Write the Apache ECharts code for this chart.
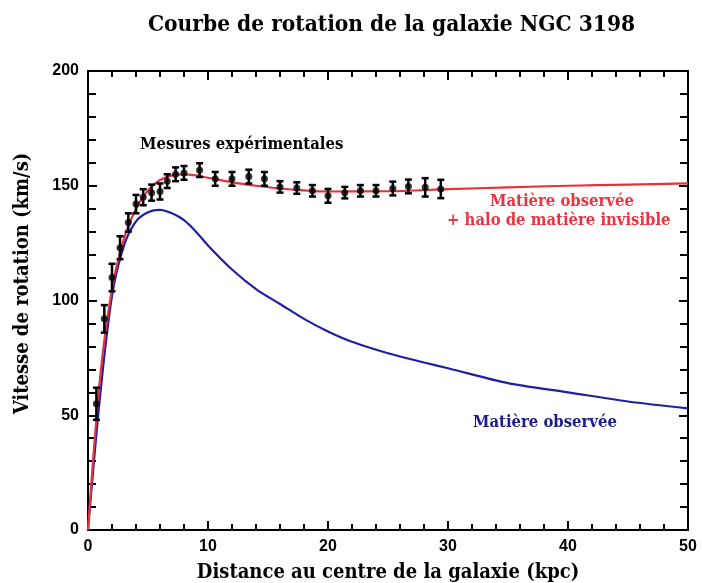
<!DOCTYPE html>
<html>
<head>
<meta charset="utf-8">
<script src="https://cdn.jsdelivr.net/npm/echarts@6/dist/echarts.min.js"></script>
<style>
  html, body { margin: 0; padding: 0; background: #fff; }
  #main { width: 702px; height: 583px; }
</style>
</head>
<body>
<div id="main"></div>
<script>
// mesures (kpc, km/s, barre d'erreur)
var mesX = [0.7, 1.36, 2.0, 2.67, 3.36, 4.0, 4.6, 5.3, 6.0, 6.6, 7.3, 8.0, 9.3, 10.6, 12.0, 13.4, 14.7,
            16.0, 17.4, 18.7, 20.0, 21.4, 22.7, 24.0, 25.4, 26.7, 28.1, 29.4];
var mesV = [55, 92, 110, 123, 134, 142, 145, 147, 147.5, 152, 155, 155.6, 156.8, 153, 153, 154, 153,
            149.5, 149, 147.8, 145.6, 147, 147.8, 147.8, 148.8, 149.7, 149.3, 148.6];
var mesErr = [7, 6, 6, 5, 4, 4, 3.5, 3.5, 3.5, 3, 3, 3, 3, 3, 3, 3, 3,
              2.5, 2.5, 2.5, 3, 2.5, 2.5, 2.5, 3, 3, 4, 4];

// matière observée + halo (courbe rouge)
var haloX = [0, 1, 2, 3, 4, 5, 6, 7, 8, 9, 10, 12, 14, 16, 18, 20, 25, 30, 35, 40, 45, 50];
var haloV = [0, 66, 105, 127, 140, 148, 152.5, 154.5, 155, 154.5, 153.5, 151.5, 150, 148.8,
             148, 147.5, 147.6, 148.5, 149.3, 150, 150.5, 151];

// matière observée seule (courbe bleue)
var obsX = [0, 1, 2, 3, 4, 5, 6, 7, 8, 9, 10, 12, 14, 16, 18, 20, 22, 25, 28, 30, 35, 40, 45, 50];
var obsV = [0, 58, 102, 124, 134.5, 138.5, 139.5, 138, 135, 130, 124, 113.5, 105, 98.5, 92,
            86.5, 82, 77, 73, 70.5, 64, 60, 56, 53];

var xTicks = [0, 10, 20, 30, 40, 50];
var yTicks = [0, 50, 100, 150, 200];

function pairs(xs, ys) {
  return xs.map(function (x, i) { return [x, ys[i]]; });
}

var chart = echarts.init(document.getElementById('main'));
var titleFont = '"DejaVu Serif Condensed", "DejaVu Serif", serif';
var labelFont = '"Liberation Sans", Arial, sans-serif';

function frameAxis(extra) {
  return Object.assign({
    type: 'value',
    axisLine: { show: true, onZero: false, lineStyle: { color: '#000', width: 2 } },
    axisTick: { show: true, inside: true, length: 9, lineStyle: { color: '#000', width: 2 } },
    minorTick: { show: true, splitNumber: 5, length: 6, lineStyle: { color: '#000', width: 2 } },
    axisLabel: { show: false },
    splitLine: { show: false }
  }, extra);
}

var option = {
  animation: false,
  backgroundColor: '#fff',
  title: {
    text: 'Courbe de rotation de la galaxie NGC 3198',
    left: 143,
    top: 9,
    textStyle: { fontFamily: titleFont, fontWeight: 'bold', fontSize: 22.5, color: '#000' }
  },
  grid: { left: 88, right: 14, top: 71, bottom: 53, outerBoundsMode: 'none', containLabel: false },
  xAxis: [
    frameAxis({
      min: 0, max: 50, interval: 10, position: 'bottom',
      name: 'Distance au centre de la galaxie (kpc)',
      nameLocation: 'middle', nameGap: 33,
      nameTextStyle: { fontFamily: titleFont, fontWeight: 'bold', fontSize: 20, color: '#000' },
      axisLabel: {
        show: true, margin: 9, fontFamily: labelFont, fontWeight: 'bold', fontSize: 16, color: '#000',
        formatter: function (v) { return xTicks.indexOf(v) >= 0 ? String(v) : ''; }
      }
    }),
    frameAxis({ min: 0, max: 50, interval: 10, position: 'top' })
  ],
  yAxis: [
    frameAxis({
      min: 0, max: 200, interval: 50, position: 'left',
      name: 'Vitesse de rotation (km/s)',
      nameLocation: 'middle', nameGap: 55,
      nameTextStyle: { fontFamily: titleFont, fontWeight: 'bold', fontSize: 20, color: '#000', padding: [0, 0, 0, 34] },
      minorTick: { show: true, splitNumber: 5, length: 8, lineStyle: { color: '#000', width: 2 } },
      axisLabel: {
        show: true, margin: 9, fontFamily: labelFont, fontWeight: 'bold', fontSize: 16, color: '#000',
        formatter: function (v) { return yTicks.indexOf(v) >= 0 ? String(v) : ''; }
      }
    }),
    frameAxis({
      min: 0, max: 200, interval: 50, position: 'right',
      minorTick: { show: true, splitNumber: 5, length: 8, lineStyle: { color: '#000', width: 2 } }
    })
  ],
  series: [{
    name: 'Matière observée',
    type: 'line',
    data: pairs(obsX, obsV),
    smooth: 0.3,
    symbol: 'none',
    lineStyle: { color: '#1f1fa6', width: 2.2 },
    z: 2
  }, {
    name: 'Matière observée + halo',
    type: 'line',
    data: pairs(haloX, haloV),
    smooth: 0.3,
    symbol: 'none',
    lineStyle: { color: '#e8303a', width: 2.2 },
    z: 3
  }, {
    name: 'Barres',
    type: 'custom',
    data: mesX.map(function (x, i) { return [x, mesV[i] - mesErr[i], mesV[i] + mesErr[i]]; }),
    renderItem: function (params, api) {
      var lo = api.coord([api.value(0), api.value(1)]);
      var hi = api.coord([api.value(0), api.value(2)]);
      var w = 3.5;
      var st = { stroke: '#000', lineWidth: 2.5 };
      return {
        type: 'group',
        children: [
          { type: 'line', shape: { x1: lo[0], y1: lo[1], x2: hi[0], y2: hi[1] }, style: st },
          { type: 'line', shape: { x1: lo[0] - w, y1: lo[1], x2: lo[0] + w, y2: lo[1] }, style: st },
          { type: 'line', shape: { x1: hi[0] - w, y1: hi[1], x2: hi[0] + w, y2: hi[1] }, style: st }
        ]
      };
    },
    encode: { x: 0, y: [1, 2] },
    z: 4
  }, {
    name: 'Mesures',
    type: 'scatter',
    data: pairs(mesX, mesV),
    symbol: 'circle',
    symbolSize: 7,
    itemStyle: { color: '#000' },
    z: 5
  }],
  graphic: [{
    type: 'text', left: 140, top: 136,
    style: { text: 'Mesures expérimentales', fontFamily: titleFont, fontWeight: 'bold', fontSize: 16.5, fill: '#000' }
  }, {
    type: 'text', left: 490, top: 193,
    style: { text: 'Matière observée', fontFamily: titleFont, fontWeight: 'bold', fontSize: 16.5, fill: '#ee3340' }
  }, {
    type: 'text', left: 447, top: 212,
    style: { text: '+ halo de matière invisible', fontFamily: titleFont, fontWeight: 'bold', fontSize: 16.5, fill: '#ee3340' }
  }, {
    type: 'text', left: 473, top: 414,
    style: { text: 'Matière observée', fontFamily: titleFont, fontWeight: 'bold', fontSize: 16.5, fill: '#1c1c8c' }
  }]
};

chart.setOption(option);
window.addEventListener('resize', function () { chart.resize(); });
</script>
</body>
</html>
